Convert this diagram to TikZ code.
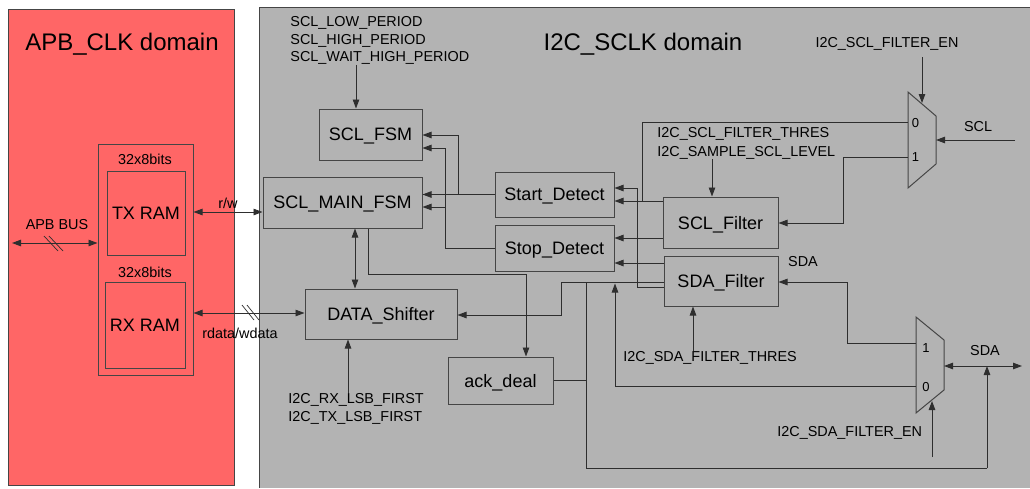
\documentclass[tikz,border=0pt]{standalone}
\usepackage{fontspec}
\setmainfont{Liberation Sans}
\usetikzlibrary{arrows.meta,calc}
\definecolor{redfill}{HTML}{FF6666}
\definecolor{greyfill}{HTML}{B3B3B3}
\definecolor{linec}{HTML}{2E2E2E}
\definecolor{edgec}{HTML}{454545}
\begin{document}
\begin{tikzpicture}[x=1pt,y=-1pt,
  line width=0.9pt, draw=linec,
  every node/.style={inner sep=0pt, font=\fontsize{14.4}{17.5}\selectfont, text=black},
  blk/.style={draw=edgec, line width=1pt, font=\fontsize{18}{22}\selectfont, text depth=0pt},
  small/.style={font=\fontsize{14.4}{17.5}\selectfont},
  muxlbl/.style={font=\fontsize{13}{15}\selectfont, text depth=0pt},
  title/.style={font=\fontsize{24}{28}\selectfont, text depth=0pt},
  arr/.style={-{Triangle[length=9pt,width=6.5pt]}},
  darr/.style={{Triangle[length=9pt,width=6.5pt]}-{Triangle[length=9pt,width=6.5pt]}},
  slashes/.style={line width=0.7pt}
]
\useasboundingbox (0,0) rectangle (1030,488);
\fill[white] (0,0) rectangle (1030,488);
% domains
\filldraw[fill=redfill, draw=edgec, line width=1pt] (8,9.5) rectangle (234,485);
\fill[greyfill] (259,7.5) rectangle (1030,488);
\draw[edgec, line width=1pt] (1030,7.5) -- (259,7.5) -- (259,488);
\node[title] (t1) at (122,42) {APB\_CLK domain};
\node[title] (t2) at (643,42) {I2C\_SCLK domain};

% RAM
\node[draw=edgec, line width=1pt, minimum width=95pt, minimum height=231pt] (ram) at (145.5,259.5) {};
\node[small] (b1) at (145,159) {32x8bits};
\node[blk, minimum width=78pt, minimum height=84pt] (tx) at (146,213) {TX RAM};
\node[small] (b2) at (145,272) {32x8bits};
\node[blk, minimum width=80pt, minimum height=86pt] (rx) at (145,325) {RX RAM};
\coordinate (apb) at (12,243);
\draw[darr] (apb) -- (ram.west |- apb);
\node[small] (apbl) at (57,225) {APB BUS};
\draw[slashes] (44,236) -- (58,251) (49,236) -- (63,251);

% boxes
\node[blk, minimum width=103pt, minimum height=51pt] (sclfsm) at (370.5,134.5) {SCL\_FSM};
\node[blk, minimum width=159pt, minimum height=51pt] (main) at (342.5,202.5) {SCL\_MAIN\_FSM};
\node[blk, minimum width=119pt, minimum height=45pt] (start) at (554.5,194.5) {Start\_Detect};
\node[blk, minimum width=119pt, minimum height=46pt] (stop) at (554.5,248) {Stop\_Detect};
\node[blk, minimum width=115pt, minimum height=51pt] (sclf) at (720.5,222.5) {SCL\_Filter};
\node[blk, minimum width=114pt, minimum height=50pt] (sdaf) at (721,281) {SDA\_Filter};
\node[blk, minimum width=152pt, minimum height=50pt] (shift) at (381,314) {DATA\_Shifter};
\node[blk, minimum width=105pt, minimum height=47pt] (ack) at (500.5,380.5) {ack\_deal};

% texts
\node[small, align=left, anchor=north west] (sclpar) at (290,16) {SCL\_LOW\_PERIOD\\SCL\_HIGH\_PERIOD\\SCL\_WAIT\_HIGH\_PERIOD};
\node[small, align=left, anchor=north west] (lsb) at (288,393) {I2C\_RX\_LSB\_FIRST\\I2C\_TX\_LSB\_FIRST};
\node[small, align=left, anchor=north west, font=\fontsize{14.4}{18.5}\selectfont] (sclthr) at (657,127) {I2C\_SCL\_FILTER\_THRES\\I2C\_SAMPLE\_SCL\_LEVEL};
\node[small] (sclen) at (887,44) {I2C\_SCL\_FILTER\_EN};
\node[small, anchor=west] (sdathr) at (623,358) {I2C\_SDA\_FILTER\_THRES};
\node[small, anchor=west] (sdaen) at (777,433) {I2C\_SDA\_FILTER\_EN};

% muxes
\draw[edgec, line width=1pt] (908,92) -- (936,116) -- (936,164) -- (908,188) -- cycle;
\coordinate (m1in0) at (908,122);
\coordinate (m1in1) at (908,157);
\coordinate (m1out) at (936,140);
\coordinate (m1sel) at (922,103);
\node[muxlbl] (m1l0) at (915.5,123) {0};
\node[muxlbl] (m1l1) at (915.5,157) {1};
\draw[edgec, line width=1pt] (916,317) -- (944,340) -- (944,390) -- (916,413) -- cycle;
\coordinate (m2in1) at (916,343);
\coordinate (m2in0) at (916,386);
\coordinate (m2out) at (944,366);
\coordinate (m2sel) at (932,401);
\node[muxlbl] (m2l1) at (926,348) {1};
\node[muxlbl] (m2l0) at (926,387) {0};

% external pins
\coordinate (sclpin) at (1015,140);
\node[small] (scll) at (978,127) {SCL};
\coordinate (sdapin) at (1022,366);
\node[small] (sdal) at (985,351) {SDA};
\node[small] (sdal2) at (803,262) {SDA};
\coordinate (sclenb) at (922,57);
\coordinate (sdaenb) at (932,457);

% connectors
\draw[arr] (sclpar.south -| 356,0) -- (sclfsm.north -| 356,0);
\draw[arr] (start.west) -| (458,135) -- (sclfsm.east |- 0,135);
\draw[arr] (458,194.5) -- (main.east |- start.west);
\draw[arr] (stop.west) -| (445,148) -- (sclfsm.east |- 0,148);
\draw[arr] (445,207) -- (main.east |- 0,207);
\draw[arr] (sclf.west |- 0,201) -- (start.east |- 0,201);
\draw[arr] (sclf.west |- 0,238) -- (stop.east |- 0,238);
\draw (642,201) |- (m1in0);
\draw[arr] (sdaf.west |- 0,287) -| (637,188) -- (start.east |- 0,188);
\draw[arr] (sdaf.west |- 0,263) -- (stop.east |- 0,263);
\draw[arr] (sdaf.west |- 0,282) -| (561,315) -- (shift.east |- 0,315);
\draw (586,282) |- (987,468);
\draw[arr] (987,468) -- (987,366);
\draw (ack.east) -- (586,380.5);
\draw[arr] (main.south -| 368,0) |- (526,274) -- (ack.north -| 526,0);
\draw[darr] (main.south -| 355,0) -- (shift.north -| 355,0);
\draw[arr] (lsb.north -| 348,0) -- (shift.south -| 348,0);
\draw[darr] (ram.east |- 0,212) -- (main.west |- 0,212);
\node[small] (rwl) at (228,203) {r/w};
\draw[darr] (ram.east |- 0,313) -- (shift.west |- 0,313);
\draw[slashes] (242,305) -- (254,320) (247,305) -- (259,320);
\node[small] (rdl) at (240,333) {rdata/wdata};
\draw[arr] (sclpin) -- (m1out);
\draw[arr] (sclenb) -- (m1sel);
\draw[arr] (m1in1) -| (843,223) -- (sclf.east |- 0,223);
\draw[arr] (sclthr.south -| 712,0) -- (sclf.north -| 712,0);
\draw[arr] (m2in1) -| (847,282) -- (sdaf.east |- 0,282);
\draw[arr] (m2in0) -| (615,283.5);
\draw[darr] (m2out) -- (sdapin);
\draw[arr] (sdaenb) -- (m2sel);
\draw[arr] (sdathr.north -| 693,0) -- (sdaf.south -| 693,0);
\end{tikzpicture}
\end{document}
